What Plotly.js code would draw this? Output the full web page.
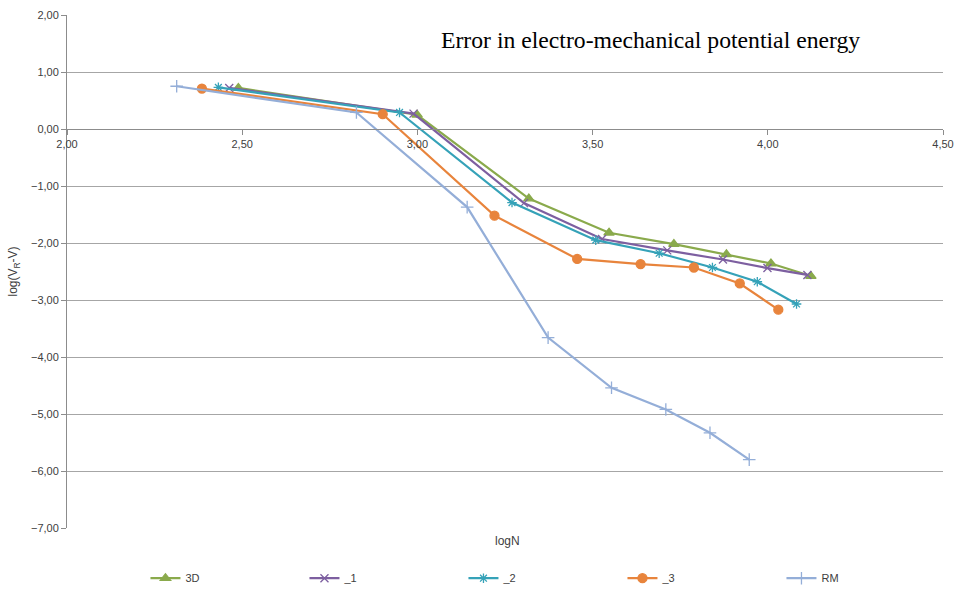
<!DOCTYPE html>
<html><head><meta charset="utf-8">
<script src="https://cdn.plot.ly/plotly-3.0.1.min.js"></script>
<style>html,body{margin:0;padding:0;background:#fff}#c{width:957px;height:590px}</style>
</head><body><div id="c"></div>
<script>
const seriesNames = ["3D", "_1", "_2", "_3", "RM"];
const x3D = [2.489, 2.999, 3.318, 3.547, 3.732, 3.882, 4.009, 4.123];
const y3D = [0.72, 0.25, -1.22, -1.82, -2.02, -2.20, -2.36, -2.58];
const x1 = [2.463, 2.989, 3.304, 3.527, 3.713, 3.872, 3.999, 4.113];
const y1 = [0.72, 0.27, -1.30, -1.93, -2.13, -2.29, -2.44, -2.56];
const x2 = [2.432, 2.949, 3.270, 3.509, 3.690, 3.842, 3.970, 4.082];
const y2 = [0.73, 0.29, -1.29, -1.95, -2.18, -2.43, -2.68, -3.07];
const x3 = [2.385, 2.901, 3.220, 3.456, 3.637, 3.789, 3.920, 4.030];
const y3 = [0.71, 0.26, -1.52, -2.28, -2.37, -2.43, -2.71, -3.17];
const xRM = [2.313, 2.826, 3.142, 3.373, 3.554, 3.709, 3.835, 3.947];
const yRM = [0.75, 0.29, -1.37, -3.66, -4.54, -4.92, -5.33, -5.80];
const xTickVals = [2.0, 2.5, 3.0, 3.5, 4.0, 4.5];
const yTickVals = [2, 1, 0, -1, -2, -3, -4, -5, -6, -7];

const colors = ["#8AAA4C", "#7D5FA0", "#35A2B8", "#E8843C", "#94AED8"];
const symbols = ["triangle-up", "x-thin-open", "asterisk-open", "circle", "cross-thin-open"];
const sizes = [9, 8, 8, 9, 9];
const xs = [x3D, x1, x2, x3, xRM];
const ys = [y3D, y1, y2, y3, yRM];

const traces = seriesNames.map((n, i) => ({
  type: "scatter", mode: "lines+markers", name: n,
  x: xs[i], y: ys[i],
  line: {color: colors[i], width: 2.2},
  marker: {symbol: symbols[i], size: sizes[i], color: colors[i], line: {color: colors[i], width: 1.3}}
}));

const fontFam = "Liberation Sans, Arial, sans-serif";
const layout = {
  width: 957, height: 590,
  margin: {l: 67, r: 14, t: 15, b: 62},
  paper_bgcolor: "#fff", plot_bgcolor: "#fff",
  separators: ", ",
  font: {family: fontFam, size: 11, color: "#404040"},
  showlegend: true,
  legend: {orientation: "h", xref: "container", yref: "container", x: 0.152, y: 0.02, xanchor: "left", yanchor: "middle",
           entrywidth: 114, entrywidthmode: "pixels", font: {size: 11, color: "#404040"}, itemwidth: 30},
  xaxis: {range: [2, 4.5], tickvals: xTickVals, tickformat: ".2f", showgrid: false, zeroline: false,
          anchor: "free", position: 7/9, showline: true, linecolor: "#8c8c8c", linewidth: 1,
          ticks: "outside", ticklen: 5, tickcolor: "#8c8c8c", tickfont: {size: 11, color: "#404040"}},
  yaxis: {range: [-7, 2], tickvals: yTickVals, tickformat: ".2f", showgrid: true, gridcolor: "#a6a6a6", gridwidth: 1,
          zeroline: false, showline: true, linecolor: "#8c8c8c", linewidth: 1,
          ticks: "outside", ticklen: 5, tickcolor: "#8c8c8c", tickfont: {size: 11, color: "#404040"},
          title: {text: "log(V<sub>R</sub>-V)", font: {size: 12, color: "#404040"}, standoff: 10}},
  annotations: [
    {text: "Error in electro-mechanical potential energy", xref: "paper", yref: "paper", x: 0.9075, y: 0.952,
     xanchor: "right", yanchor: "middle", showarrow: false, font: {family: "Liberation Serif, Times New Roman, serif", size: 23.7, color: "#000"}},
    {text: "logN", xref: "paper", yref: "paper", x: (507 - 67) / 876, y: -13 / 513, xanchor: "center", yanchor: "middle",
     showarrow: false, font: {size: 12, color: "#404040"}}
  ]
};
Plotly.newPlot("c", traces, layout, {displayModeBar: false, staticPlot: true});
</script></body></html>
